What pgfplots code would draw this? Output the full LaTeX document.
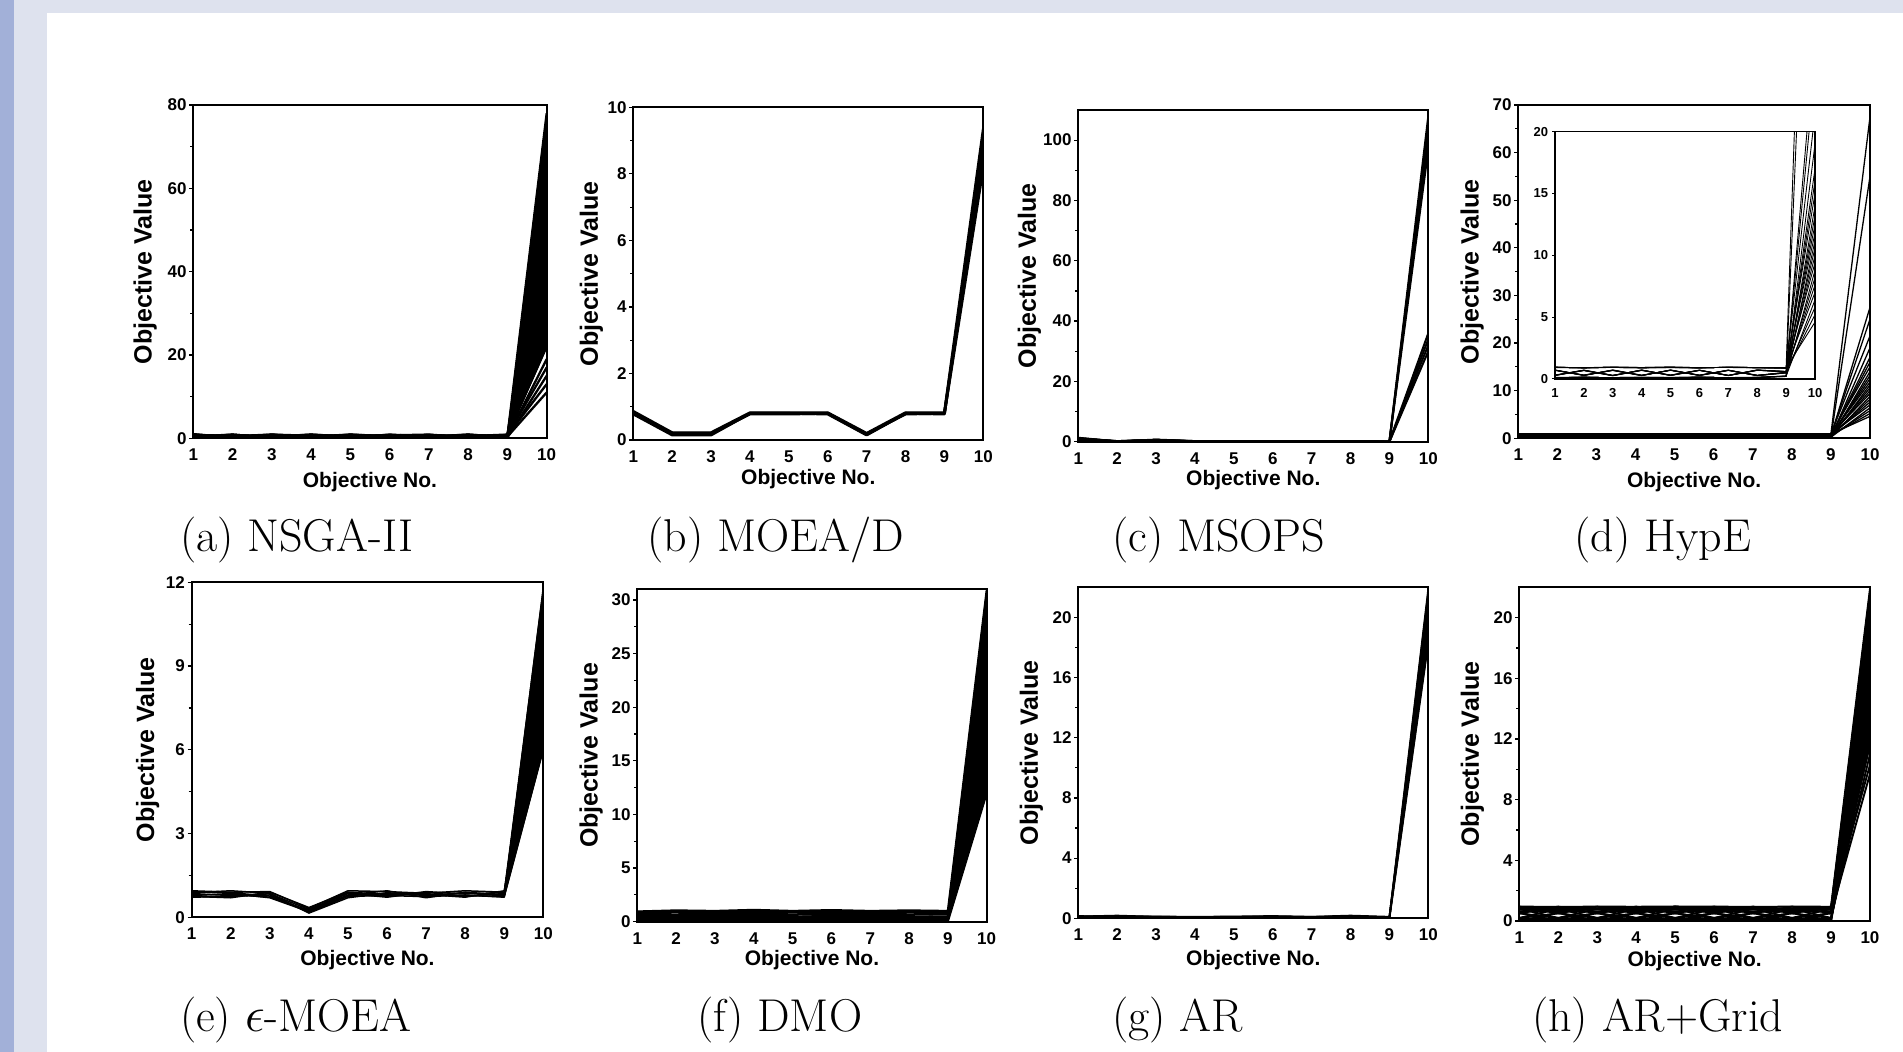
\documentclass[border=0pt]{standalone}
\usepackage{fontspec}
\usepackage{pgfplots}
\usepackage{pgfplotstable}
\pgfplotsset{compat=1.18}
\newfontfamily\arl{Liberation Sans}

\definecolor{slideblue}{RGB}{162,176,216}
\definecolor{slidegrey}{RGB}{222,226,238}

% one column per solution, one row per objective
\pgfplotstableread{
obj s1 s2 s3 s4 s5 s6 s7 s8 s9 s10 s11 s12 s13 s14
1 0.9 0.2 0.6 0.4 0.8 0.1 0.5 0.7 0.3 1.0 0.2 0.6 0.4 0.8
2 0.3 0.8 0.5 0.9 0.2 0.6 0.1 0.4 0.7 0.2 0.9 0.5 0.3 0.6
3 0.7 0.4 0.9 0.1 0.6 0.3 0.8 0.2 0.5 0.8 0.1 0.4 0.9 0.3
4 0.2 0.9 0.3 0.7 0.5 0.8 0.4 0.6 0.1 0.5 0.7 0.2 0.6 0.9
5 0.8 0.3 0.6 0.5 0.1 0.4 0.9 0.3 0.8 0.1 0.5 0.9 0.2 0.4
6 0.4 0.7 0.2 0.8 0.9 0.1 0.5 0.7 0.3 0.6 0.2 0.4 0.8 0.5
7 0.6 0.1 0.8 0.3 0.4 0.7 0.2 0.9 0.6 0.4 0.8 0.1 0.5 0.7
8 0.1 0.6 0.4 0.9 0.7 0.5 0.8 0.2 0.4 0.9 0.3 0.7 0.1 0.2
9 0.5 0.4 0.7 0.2 0.6 0.9 0.3 0.5 0.8 0.3 0.6 0.2 0.7 0.4
10 78 70 62 55 48 40 33 27 22 19 17 15 13 11
}\tabNSGA

\pgfplotstableread{
obj s1 s2 s3 s4
1 0.86 0.82 0.80 0.78
2 0.22 0.18 0.20 0.15
3 0.22 0.17 0.20 0.15
4 0.82 0.80 0.78 0.80
5 0.82 0.80 0.78 0.80
6 0.82 0.78 0.80 0.80
7 0.20 0.15 0.18 0.16
8 0.82 0.80 0.78 0.80
9 0.82 0.78 0.80 0.80
10 9.35 9.0 8.6 8.2
}\tabMOEAD

\pgfplotstableread{
obj s1 s2 s3 s4 s5 s6 s7 s8
1 1.3 1.0 0.8 1.1 0.6 0.9 1.2 0.7
2 0.1 0.2 0.1 0.15 0.1 0.2 0.1 0.1
3 0.6 0.5 0.7 0.4 0.6 0.5 0.3 0.6
4 0.1 0.1 0.2 0.1 0.15 0.1 0.1 0.2
5 0.1 0.15 0.1 0.1 0.1 0.2 0.1 0.1
6 0.1 0.1 0.1 0.15 0.1 0.1 0.2 0.1
7 0.15 0.1 0.1 0.1 0.2 0.1 0.1 0.1
8 0.1 0.1 0.15 0.1 0.1 0.1 0.1 0.2
9 0.05 0 0.05 0 0.05 0 0.05 0
10 108 105 101 97 36 34 32 30
}\tabMSOPS

\pgfplotstableread{
obj s1 s2 s3 s4 s5 s6 s7 s8 s9 s10 s11 s12 s13 s14 s15 s16 s17 s18 s19 s20 s21 s22 s23 s24 s25
1 0.95 0.10 0.72 0.30 0.93 0.12 0.70 0.32 0.96 0.08 0.73 0.28 0.94 0.11 0.71 0.31 0.95 0.09 0.72 0.29 0.92 0.13 0.70 0.30 0.96
2 0.90 0.15 0.30 0.70 0.92 0.13 0.28 0.72 0.89 0.16 0.31 0.69 0.91 0.14 0.29 0.71 0.90 0.15 0.30 0.70 0.93 0.12 0.32 0.68 0.90
3 0.95 0.10 0.70 0.28 0.94 0.12 0.72 0.30 0.96 0.09 0.69 0.27 0.93 0.11 0.71 0.29 0.95 0.10 0.70 0.28 0.94 0.12 0.73 0.26 0.95
4 0.92 0.12 0.28 0.72 0.90 0.14 0.30 0.70 0.93 0.11 0.27 0.73 0.91 0.13 0.29 0.71 0.92 0.12 0.28 0.72 0.90 0.14 0.31 0.69 0.93
5 0.95 0.10 0.72 0.30 0.93 0.12 0.70 0.32 0.96 0.08 0.73 0.28 0.94 0.11 0.71 0.31 0.95 0.09 0.72 0.29 0.92 0.13 0.70 0.30 0.96
6 0.91 0.14 0.29 0.71 0.90 0.15 0.30 0.70 0.92 0.13 0.31 0.69 0.89 0.16 0.28 0.72 0.91 0.14 0.30 0.70 0.90 0.15 0.29 0.71 0.92
7 0.94 0.11 0.71 0.29 0.95 0.10 0.70 0.28 0.93 0.12 0.72 0.30 0.96 0.09 0.69 0.27 0.94 0.11 0.71 0.29 0.95 0.10 0.70 0.28 0.94
8 0.93 0.11 0.27 0.73 0.92 0.12 0.28 0.72 0.90 0.14 0.30 0.70 0.92 0.13 0.29 0.71 0.93 0.11 0.27 0.73 0.91 0.13 0.30 0.70 0.92
9 0.90 0.22 0.50 0.60 0.88 0.25 0.52 0.58 0.92 0.20 0.48 0.62 0.86 0.24 0.55 0.57 0.90 0.21 0.50 0.60 0.89 0.23 0.53 0.59 0.91
10 67.5 55 27.5 25 21.5 19 17 16 15 14 13.2 12.5 11.8 11.2 10.6 10 9.4 8.8 8.2 7.6 7 6.4 5.8 5.2 4.6
}\tabHypE

\pgfplotstableread{
obj s1 s2 s3 s4 s5 s6 s7 s8
1 0.72 0.95 0.80 0.88 0.75 0.92 0.85 0.78
2 0.75 0.90 0.82 0.95 0.70 0.88 0.78 0.85
3 0.80 0.92 0.72 0.86 0.90 0.76 0.84 0.70
4 0.18 0.32 0.25 0.15 0.35 0.22 0.28 0.20
5 0.75 0.95 0.85 0.70 0.90 0.80 0.88 0.78
6 0.78 0.92 0.72 0.88 0.82 0.95 0.75 0.85
7 0.74 0.86 0.90 0.78 0.82 0.70 0.92 0.80
8 0.80 0.95 0.75 0.88 0.72 0.90 0.84 0.78
9 0.72 0.90 0.85 0.76 0.95 0.80 0.88 0.74
10 11.8 10.9 10.0 9.2 8.4 7.6 6.8 6.0
}\tabEps

\pgfplotstableread{
obj s1 s2 s3 s4 s5 s6 s7 s8
1 0.95 0.05 0.50 0.80 0.20 0.65 0.35 0.90
2 1.05 0.10 0.45 0.85 0.15 0.60 0.30 0.95
3 1.00 0.05 0.55 0.75 0.25 0.70 0.40 0.90
4 1.10 0.10 0.50 0.80 0.20 0.60 0.35 0.95
5 1.00 0.05 0.45 0.85 0.15 0.65 0.30 0.90
6 1.08 0.10 0.55 0.80 0.25 0.70 0.40 0.95
7 1.00 0.05 0.50 0.75 0.20 0.60 0.35 0.90
8 1.05 0.10 0.45 0.85 0.15 0.65 0.30 0.95
9 1.00 0.05 0.50 0.80 0.20 0.70 0.35 0.90
10 30.9 12 28 15 25 19 22 17
}\tabDMO

\pgfplotstableread{
obj s1 s2 s3 s4 s5
1 0.10 0.00 0.15 0.05 0.12
2 0.15 0.05 0.10 0.00 0.18
3 0.10 0.00 0.12 0.05 0.10
4 0.05 0.00 0.10 0.02 0.08
5 0.08 0.00 0.12 0.04 0.10
6 0.10 0.02 0.15 0.05 0.12
7 0.08 0.00 0.10 0.03 0.10
8 0.15 0.05 0.12 0.00 0.18
9 0.05 0.00 0.08 0.02 0.10
10 21.9 18.3 21.0 19.2 20.2
}\tabAR

\pgfplotstableread{
obj s1 s2 s3 s4 s5 s6 s7 s8 s9 s10 s11 s12 s13 s14 s15
1 0.95 0.85 0.75 0.64 0.55 0.00 0.50 0.20 0.00 0.10 0.17 0.80 0.20 0.95 0.50
2 0.93 0.87 0.73 0.66 0.00 0.55 0.20 0.50 0.02 0.09 0.16 0.20 0.80 0.50 0.95
3 0.95 0.84 0.76 0.63 0.55 0.00 0.50 0.20 0.00 0.11 0.17 0.80 0.20 0.95 0.50
4 0.94 0.86 0.74 0.65 0.00 0.55 0.20 0.50 0.01 0.10 0.15 0.20 0.80 0.50 0.95
5 0.96 0.85 0.75 0.64 0.55 0.00 0.50 0.20 0.00 0.09 0.17 0.80 0.20 0.95 0.50
6 0.95 0.87 0.73 0.66 0.00 0.55 0.20 0.50 0.02 0.10 0.16 0.20 0.80 0.50 0.95
7 0.93 0.85 0.76 0.63 0.55 0.00 0.50 0.20 0.00 0.11 0.17 0.80 0.20 0.95 0.50
8 0.95 0.84 0.74 0.65 0.00 0.55 0.20 0.50 0.01 0.10 0.15 0.20 0.80 0.50 0.95
9 0.94 0.86 0.75 0.64 0.55 0.00 0.50 0.20 0.00 0.09 0.17 0.80 0.20 0.95 0.50
10 21.9 21 20 19 18 17 16 15 14 13 12.3 11.6 11 10.3 9.7
}\tabGrid

\pgfplotsset{
  panel/.style={
    scale only axis,
    xmin=1, xmax=10, ymin=0,
    xtick={1,...,10},
    minor y tick num=1,
    tick pos=left,
    tick align=outside,
    major tick length=2pt,
    minor tick length=1.5pt,
    xtick style={draw=none},
    axis line style={line width=0.9pt},
    every tick/.style={black, line width=0.6pt},
    tick label style={font=\arl\bfseries\fontsize{8.5}{9}\selectfont},
    /pgf/number format/assume math mode=true,
    x tick label style={anchor=center, yshift=-6.3pt},
    y tick label style={anchor=east, inner sep=0pt, xshift=-1.2pt},
    every axis x label/.style={at={(axis description cs:0.5,-0.125)}, anchor=center,
      font=\arl\bfseries\fontsize{10.5}{12}\selectfont},
    every axis y label/.style={at={(axis description cs:-0.13,0.5)}, anchor=center, rotate=90,
      font=\arl\bfseries\fontsize{12.5}{14}\selectfont},
    xlabel={Objective No.},
    ylabel={Objective Value},
  },
  ln/.style={black, line width=0.75pt, line join=round},
  wedge/.style={fill=black, draw=black, line width=0.5pt},
}
\tikzset{subcap/.style={anchor=base west, inner sep=0pt, font=\fontsize{23}{27}\selectfont}}

\begin{document}
\begin{tikzpicture}
\useasboundingbox (0,0) rectangle (951.5pt,-526pt);
\fill[slidegrey] (0,0) rectangle (951.5pt,-526pt);
\fill[slideblue] (0,0) rectangle (7pt,-526pt);
\fill[white] (23.5pt,-6.5pt) rectangle (951.5pt,-526pt);

% (a) NSGA-II
\begin{axis}[panel, at={(96.65pt,-219.15pt)}, anchor=south west,
  width=176.7pt, height=166.65pt, ymax=80, ytick={0,20,...,80},
  xlabel style={at={(axis description cs:0.5,-0.132)}},
  ylabel style={at={(axis description cs:-0.136,0.5)}}]
\addplot[wedge] coordinates {(9,0.2) (10,22) (10,78) (9,0.9)};
\pgfplotsinvokeforeach{1,...,14}{\addplot[ln, line width=1.15pt] table[x=obj,y=s#1]{\tabNSGA};}
\end{axis}

% (b) MOEA/D
\begin{axis}[panel, at={(316.65pt,-220pt)}, anchor=south west,
  width=175pt, height=166.35pt, ymax=10, ytick={0,2,...,10},
  xlabel style={at={(axis description cs:0.5,-0.117)}},
  ylabel style={at={(axis description cs:-0.12,0.5)}}]
\pgfplotsinvokeforeach{1,...,4}{\addplot[ln, line width=1.4pt] table[x=obj,y=s#1]{\tabMOEAD};}
\end{axis}

% (c) MSOPS
\begin{axis}[panel, at={(539.15pt,-220.85pt)}, anchor=south west,
  width=175pt, height=165.85pt, ymax=110, ytick={0,20,...,100},
  xlabel style={at={(axis description cs:0.5,-0.117)}},
  ylabel style={at={(axis description cs:-0.14,0.5)}}]
\pgfplotsinvokeforeach{1,...,8}{\addplot[ln, line width=1pt] table[x=obj,y=s#1]{\tabMSOPS};}
\end{axis}

% (d) HypE
\begin{axis}[panel, at={(759.15pt,-219.15pt)}, anchor=south west,
  width=175.85pt, height=166.65pt, ymax=70, ytick={0,10,...,70},
  xlabel style={at={(axis description cs:0.5,-0.132)}},
  ylabel style={at={(axis description cs:-0.131,0.5)}}]
\pgfplotsinvokeforeach{1,...,25}{\addplot[ln, line width=0.65pt] table[x=obj,y=s#1]{\tabHypE};}
\end{axis}
% inset of (d), same solutions, 0 to 20
\begin{axis}[scale only axis, at={(777.5pt,-189.5pt)}, anchor=south west,
  width=130pt, height=123.65pt,
  xmin=1, xmax=10, ymin=0, ymax=20,
  xtick={1,...,10}, ytick={0,5,...,20},
  tick pos=left, tick align=outside, major tick length=1.5pt,
  xtick style={draw=none},
  every tick/.style={black, line width=0.5pt},
  axis line style={line width=0.6pt},
  axis background/.style={fill=white},
  tick label style={font=\arl\bfseries\fontsize{6.5}{7}\selectfont},
  /pgf/number format/assume math mode=true,
  x tick label style={anchor=center, yshift=-5.5pt},
  y tick label style={anchor=east, inner sep=0pt, xshift=-1.8pt}]
\pgfplotsinvokeforeach{1,...,25}{\addplot[ln, line width=0.45pt] table[x=obj,y=s#1]{\tabHypE};}
\end{axis}

% (e) epsilon-MOEA
\begin{axis}[panel, at={(95.85pt,-458.65pt)}, anchor=south west,
  width=175.8pt, height=167.5pt, ymax=12, ytick={0,3,...,12},
  xlabel style={at={(axis description cs:0.5,-0.128)}},
  ylabel style={at={(axis description cs:-0.125,0.5)}}]
\addplot[wedge] coordinates {(9,0.72) (10,6.0) (10,11.8) (9,0.95)};
\pgfplotsinvokeforeach{1,...,8}{\addplot[ln] table[x=obj,y=s#1]{\tabEps};}
\end{axis}

% (f) DMO
\begin{axis}[panel, at={(318.65pt,-460.85pt)}, anchor=south west,
  width=174.7pt, height=166.2pt, ymax=31, ytick={0,5,...,30},
  xlabel style={at={(axis description cs:0.5,-0.116)}},
  ylabel style={at={(axis description cs:-0.132,0.5)}}]
\addplot[wedge] coordinates {(9,0.05) (10,12) (10,30.9) (9,1.0)};
\pgfplotsinvokeforeach{1,...,8}{\addplot[ln, line width=1.1pt] table[x=obj,y=s#1]{\tabDMO};}
\end{axis}

% (g) AR
\begin{axis}[panel, at={(539.15pt,-459.15pt)}, anchor=south west,
  width=175pt, height=165.5pt, ymax=22, ytick={0,4,...,20},
  xlabel style={at={(axis description cs:0.5,-0.127)}},
  ylabel style={at={(axis description cs:-0.134,0.5)}}]
\addplot[wedge] coordinates {(9,0.0) (10,18.3) (10,21.9) (9,0.1)};
\pgfplotsinvokeforeach{1,...,5}{\addplot[ln, line width=0.9pt] table[x=obj,y=s#1]{\tabAR};}
\end{axis}

% (h) AR+Grid
\begin{axis}[panel, at={(759.65pt,-460.5pt)}, anchor=south west,
  width=175.35pt, height=166.85pt, ymax=22, ytick={0,4,...,20},
  xlabel style={at={(axis description cs:0.5,-0.12)}},
  ylabel style={at={(axis description cs:-0.134,0.5)}}]
\addplot[wedge] coordinates {(9,0.1) (10,11.6) (10,21.9) (9,0.95)};
\pgfplotsinvokeforeach{1,...,15}{\addplot[ln, line width=0.95pt] table[x=obj,y=s#1]{\tabGrid};}
\end{axis}

\node[subcap] at (89.8pt,-275.85pt) {(a) NSGA-II};
\node[subcap] at (323.45pt,-276pt) {(b) MOEA/D};
\node[subcap] at (555.85pt,-276pt) {(c) MSOPS};
\node[subcap] at (787.1pt,-276pt) {(d) HypE};
\node[subcap] at (89.8pt,-516pt) {(e) $\epsilon$-MOEA};
\node[subcap] at (348.35pt,-516pt) {(f) DMO};
\node[subcap] at (555.85pt,-516pt) {(g) AR};
\node[subcap] at (765.85pt,-516pt) {(h) AR+Grid};
\end{tikzpicture}
\end{document}
